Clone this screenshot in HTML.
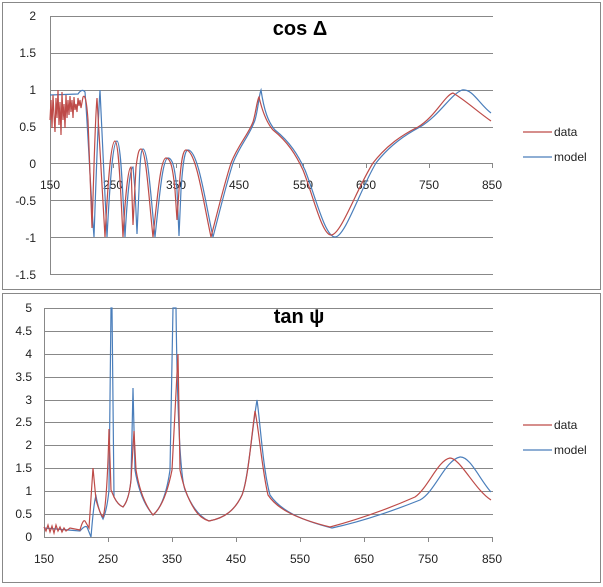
<!DOCTYPE html>
<html><head><style>
body{margin:0;background:#fff;width:603px;height:587px;overflow:hidden}
svg{display:block}
text{font-family:"Liberation Sans",sans-serif;font-size:12px;fill:#222}
</style></head><body>
<svg width="603" height="587" viewBox="0 0 603 587">
<rect x="2.5" y="2.5" width="598" height="287" fill="#fff" stroke="#888"/>
<rect x="2.5" y="293.5" width="598" height="289" fill="#fff" stroke="#888"/>
<g stroke="#888" stroke-width="1">
<line x1="50" y1="16.5" x2="493" y2="16.5"/><line x1="50" y1="53.5" x2="493" y2="53.5"/>
<line x1="50" y1="90.5" x2="493" y2="90.5"/><line x1="50" y1="127.5" x2="493" y2="127.5"/>
<line x1="50" y1="163.5" x2="493" y2="163.5"/><line x1="50" y1="200.5" x2="493" y2="200.5"/>
<line x1="50" y1="237.5" x2="493" y2="237.5"/><line x1="50" y1="274.5" x2="493" y2="274.5"/>
<line x1="50.5" y1="16" x2="50.5" y2="274"/>
<line x1="113.5" y1="163" x2="113.5" y2="168"/><line x1="176.5" y1="163" x2="176.5" y2="168"/>
<line x1="239.5" y1="163" x2="239.5" y2="168"/><line x1="303.5" y1="163" x2="303.5" y2="168"/>
<line x1="366.5" y1="163" x2="366.5" y2="168"/><line x1="429.5" y1="163" x2="429.5" y2="168"/>
<line x1="492.5" y1="163" x2="492.5" y2="168"/>
</g>
<g stroke="#888" stroke-width="1">
<line x1="44" y1="308.5" x2="493" y2="308.5"/><line x1="44" y1="331.5" x2="493" y2="331.5"/>
<line x1="44" y1="354.5" x2="493" y2="354.5"/><line x1="44" y1="377.5" x2="493" y2="377.5"/>
<line x1="44" y1="400.5" x2="493" y2="400.5"/><line x1="44" y1="422.5" x2="493" y2="422.5"/>
<line x1="44" y1="445.5" x2="493" y2="445.5"/><line x1="44" y1="468.5" x2="493" y2="468.5"/>
<line x1="44" y1="491.5" x2="493" y2="491.5"/><line x1="44" y1="514.5" x2="493" y2="514.5"/>
<line x1="44" y1="537.5" x2="493" y2="537.5"/>
<line x1="44.5" y1="308" x2="44.5" y2="537"/>
<line x1="108.5" y1="537" x2="108.5" y2="542"/><line x1="172.5" y1="537" x2="172.5" y2="542"/>
<line x1="236.5" y1="537" x2="236.5" y2="542"/><line x1="300.5" y1="537" x2="300.5" y2="542"/>
<line x1="364.5" y1="537" x2="364.5" y2="542"/><line x1="428.5" y1="537" x2="428.5" y2="542"/>
<line x1="492.5" y1="537" x2="492.5" y2="542"/>
</g>
<g text-anchor="end">
<text x="36" y="20">2</text><text x="36" y="57">1.5</text><text x="36" y="94">1</text>
<text x="36" y="131">0.5</text><text x="36" y="168">0</text><text x="36" y="205">-0.5</text>
<text x="36" y="242">-1</text><text x="36" y="279">-1.5</text>
<text x="32" y="312">5</text><text x="32" y="335">4.5</text><text x="32" y="358">4</text>
<text x="32" y="381">3.5</text><text x="32" y="404">3</text><text x="32" y="426">2.5</text>
<text x="32" y="449">2</text><text x="32" y="472">1.5</text><text x="32" y="495">1</text>
<text x="32" y="518">0.5</text><text x="32" y="541">0</text>
</g>
<g text-anchor="middle">
<text x="50" y="189">150</text><text x="113" y="189">250</text><text x="176" y="189">350</text>
<text x="239" y="189">450</text><text x="303" y="189">550</text><text x="366" y="189">650</text>
<text x="429" y="189">750</text><text x="492" y="189">850</text>
<text x="44" y="563">150</text><text x="108" y="563">250</text><text x="172" y="563">350</text>
<text x="236" y="563">450</text><text x="300" y="563">550</text><text x="364" y="563">650</text>
<text x="428" y="563">750</text><text x="492" y="563">850</text>
<text x="300" y="35" style="font-size:20px;font-weight:bold;fill:#000">cos Δ</text>
<text x="299" y="323" style="font-size:20px;font-weight:bold;fill:#000">tan ψ</text>
</g>
<!-- top -->
<path fill="none" stroke="#4a7ebb" stroke-width="1.2" d="M50,95 L78,94 Q82,88 85,92 C88,130 91,200 94,237 C96,180 98,120 100,90 C102,130 105,200 107,237 C110,180 113,141 117,141 C121,141 123,200 125,237 C127,200 130,167 133,167 L135,190 L137,234 L139,190 C140,160 141,149 143,149 C148,149 151,200 155,237 C160,190 163,158 168,158 C173,158 175,170 177,190 L179,236 L181,190 C183,160 185,150 188,150 C198,150 205,200 213,237 C220,210 226,185 233,163 C240,145 250,135 255,120 C258,110 259,95 261,90 C264,110 268,122 275,130 C290,142 298,155 305,170 C315,195 325,237 335,237 C345,237 360,190 376,163 C390,145 405,135 420,127 C440,115 450,95 462,90 C472,88 480,105 491,113"/>
<path fill="none" stroke="#be4b48" stroke-width="1.2" d="M50,120 L51,100 L52,128 L53,95 L54,115 L55,132 L56,98 L57,118 L58,90 L59,125 L60,102 L61,135 L62,92 L63,120 L64,104 L65,128 L66,95 L67,118 L68,100 L69,115 L70,96 L71,112 L72,100 L73,118 L74,97 L75,110 L76,104 L77,112 L78,98 L79,106 L80,100 L81,108 L83,97 Q86,92 88,120 L92,228 C94,170 95,120 97,98 C100,150 103,200 105,237 C108,180 111,141 115,141 C119,141 121,200 123,237 C125,200 128,167 131,167 L133,225 L136,167 C138,152 139,149 141,149 C146,149 149,200 153,237 C158,190 161,158 166,158 C171,158 173,170 175,190 L177,220 L179,190 C181,160 183,150 186,150 C196,150 203,200 211,237 C218,210 224,185 231,163 C238,145 248,135 253,122 C256,112 257,100 259,97 C262,110 266,122 273,130 C288,142 296,155 303,170 C313,195 322,235 331,235 C341,235 356,190 373,163 C387,145 402,135 418,127 C435,117 445,95 453,93 C465,100 478,112 491,121"/>
<!-- bottom -->
<path fill="none" stroke="#4a7ebb" stroke-width="1.2" d="M44,528 L80,531 Q85,525 87,527 L91,537 Q94,500 96,496 Q99,512 103,519 Q107,510 109,490 L111,308 L112,308 L114,497 Q118,505 123,507 Q129,500 131,480 L133,388 L135,470 Q140,500 153,515 Q165,505 170,470 L173,308 L176,308 Q178,470 185,490 Q195,515 209,521 C225,518 235,510 242,495 C248,480 252,430 257,400 C260,420 263,470 270,495 C280,510 300,520 332,528 C360,522 390,512 420,500 C435,492 445,460 460,457 C470,456 480,480 491,492"/>
<path fill="none" stroke="#be4b48" stroke-width="1.2" d="M44,527 L46,531 L48,525 L50,532 L52,526 L54,533 L56,525 L58,531 L60,527 L62,532 L64,528 L66,531 L70,528 L80,530 Q83,519 85,521 L89,528 L93,468 L96,500 Q100,514 103,517 Q107,505 109,429 L111,490 L114,497 Q118,505 123,507 Q129,500 131,480 L134,431 L136,470 Q141,500 153,515 Q165,505 172,470 L178,354 L180,470 Q185,495 195,510 Q200,518 209,521 C225,518 235,510 242,495 C248,480 251,440 255,411 C259,430 262,470 268,495 C278,510 298,519 330,527 C360,519 390,508 415,497 C428,488 438,460 450,458 C460,458 475,490 491,500"/>
<!-- legends -->
<line x1="523" y1="132" x2="552" y2="132" stroke="#be4b48" stroke-width="1.2"/>
<text x="554" y="136">data</text>
<line x1="523" y1="157" x2="552" y2="157" stroke="#4a7ebb" stroke-width="1.2"/>
<text x="554" y="161">model</text>
<line x1="523" y1="425" x2="552" y2="425" stroke="#be4b48" stroke-width="1.2"/>
<text x="554" y="429">data</text>
<line x1="523" y1="450" x2="552" y2="450" stroke="#4a7ebb" stroke-width="1.2"/>
<text x="554" y="454">model</text>
</svg>
</body></html>
